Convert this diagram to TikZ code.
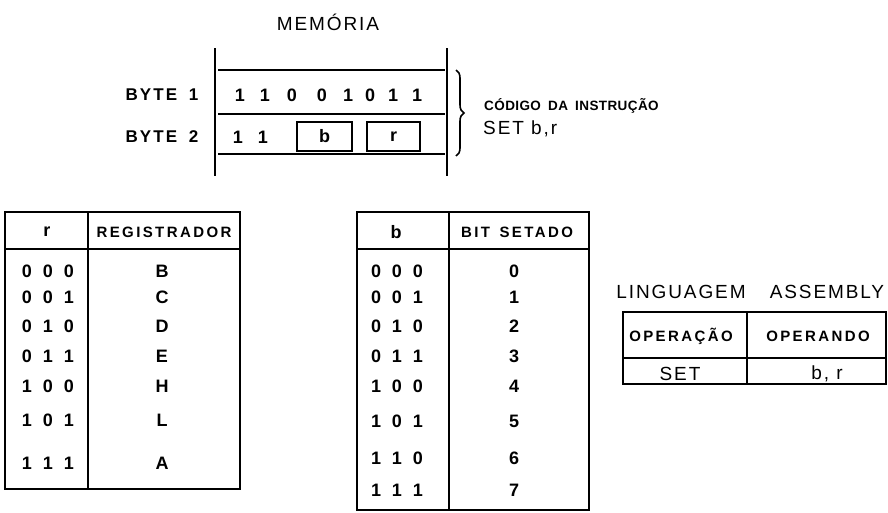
\documentclass[tikz,border=0pt]{standalone}
\usepackage{fontspec}
\setmainfont{Liberation Sans}
\newfontfamily\widefont[LetterSpace=10]{Liberation Sans}
\newfontfamily\hdrfont[LetterSpace=16]{Liberation Sans}
\newfontfamily\codfont[LetterSpace=3]{Liberation Sans}
\newfontfamily\bytefont[LetterSpace=12]{Liberation Sans}
\usetikzlibrary{decorations.pathreplacing}
\newcommand{\tribits}[3]{\makebox[21pt]{#1}\makebox[21pt]{#2}\makebox[21pt]{#3}}
\begin{document}
\begin{tikzpicture}[x=1pt,y=-1pt,
  frame/.style={line width=2.8pt},
  inbox/.style={draw,line width=2pt,minimum width=#1,minimum height=29pt,inner sep=0pt,font=\bfseries\fontsize{18}{20}\selectfont},
  txt/.style={font=\widefont\fontsize{19}{21}\selectfont,inner sep=0pt},
  hd/.style={font=\hdrfont\bfseries\fontsize{15}{16}\selectfont,inner sep=0pt},
  codlbl/.style={font=\codfont\bfseries\fontsize{13.5}{15}\selectfont,inner sep=0pt},
  bytelbl/.style={font=\bytefont\bfseries\fontsize{17}{18}\selectfont,inner sep=0pt},
  bit/.style={font=\bfseries\fontsize{18}{20}\selectfont,inner sep=0pt}]
\useasboundingbox (0,0) rectangle (888,512);

% ---------- memory ----------
\node[txt] (mem) at (328,22) {MEMÓRIA};
\coordinate (mL1) at (215,48); \coordinate (mL2) at (215,176);
\coordinate (mR1) at (447,48); \coordinate (mR2) at (447,176);
\draw[frame] (mL1) -- (mL2);
\draw[frame] (mR1) -- (mR2);
\foreach \yy/\nm in {70/h1,114/h2,154/h3}{
  \coordinate (\nm a) at (218,\yy); \coordinate (\nm b) at (445,\yy);
  \draw[frame] (\nm a) -- (\nm b);
}
\node[bytelbl] (by1) at (162,95) {BYTE\hspace{5pt} 1};
\node[bytelbl] (by2) at (162,137) {BYTE\hspace{5pt} 2};
\foreach \xx/\v [count=\i] in {240/1,265/1,292/0,322/0,348/1,370/0,393/1,417/1}{
  \node[bit] (d\i) at (\xx,95) {\v};
}
\node[bit] (e1) at (238,137) {1};
\node[bit] (e2) at (263,137) {1};
\node[inbox=55pt] (bb) at (324.5,136.5) {b};
\node[inbox=53pt] (rb) at (393.5,136.5) {r};
\coordinate (brT) at (456,70); \coordinate (brB) at (456,156);
\draw[line width=1.6pt,decorate,decoration={brace,amplitude=8pt}] (brT) -- (brB);
\node[codlbl,anchor=west] (cod) at (484,106) {CÓDIGO\hspace{3pt} DA\hspace{3pt} INSTRUÇÃO};
\node[txt,anchor=west] (setbr) at (483,129) {SET b,r};

% ---------- table r ----------
\coordinate (ra) at (5,212); \coordinate (rb2) at (240,489);
\draw[frame] (ra) rectangle (rb2);
\coordinate (rd1) at (88,212); \coordinate (rd2) at (88,489);
\draw[frame] (rd1) -- (rd2);
\coordinate (rh1) at (5,249); \coordinate (rh2) at (240,249);
\draw[frame] (rh1) -- (rh2);
\node[bit] (rhr) at (47,232) {r};
\node[hd] (rhreg) at (164,232) {REGISTRADOR};
\foreach \yy/\a/\b/\c/\reg [count=\i] in {271/0/0/0/B,297/0/0/1/C,326/0/1/0/D,356/0/1/1/E,386/1/0/0/H,420/1/0/1/L,463/1/1/1/A}{
  \node[bit] (rbits\i) at (48,\yy) {\tribits{\a}{\b}{\c}};
  \node[bit] (rreg\i) at (162,\yy) {\reg};
}

% ---------- table b ----------
\coordinate (ba) at (357,212); \coordinate (bb2) at (589,510);
\draw[frame] (ba) rectangle (bb2);
\coordinate (bd1) at (449,212); \coordinate (bd2) at (449,510);
\draw[frame] (bd1) -- (bd2);
\coordinate (bh1) at (357,249); \coordinate (bh2) at (589,249);
\draw[frame] (bh1) -- (bh2);
\node[bit] (bhb) at (396,232) {b};
\node[hd] (bhbit) at (517,232) {BIT\hspace{3pt} SETADO};
\foreach \yy/\a/\b/\c/\v [count=\i] in {271/0/0/0/0,297/0/0/1/1,326/0/1/0/2,356/0/1/1/3,386/1/0/0/4,421/1/0/1/5,458/1/1/0/6,490/1/1/1/7}{
  \node[bit] (bbits\i) at (397,\yy) {\tribits{\a}{\b}{\c}};
  \node[bit] (bval\i) at (514,\yy) {\v};
}

% ---------- assembly ----------
\node[txt] (ling) at (681,292) {LINGUAGEM};
\node[txt] (asm) at (827,292) {ASSEMBLY};
\coordinate (aa) at (623,312); \coordinate (ab) at (886,384);
\draw[frame] (aa) rectangle (ab);
\coordinate (ad1) at (747,312); \coordinate (ad2) at (747,384);
\draw[frame] (ad1) -- (ad2);
\coordinate (ah1) at (623,358); \coordinate (ah2) at (886,358);
\draw[frame] (ah1) -- (ah2);
\node[hd] (op) at (681,336) {OPERAÇÃO};
\node[hd] (opd) at (818,336) {OPERANDO};
\node[txt] (set) at (680,374) {SET};
\node[txt] (br) at (827,374) {b, r};
\end{tikzpicture}
\end{document}
